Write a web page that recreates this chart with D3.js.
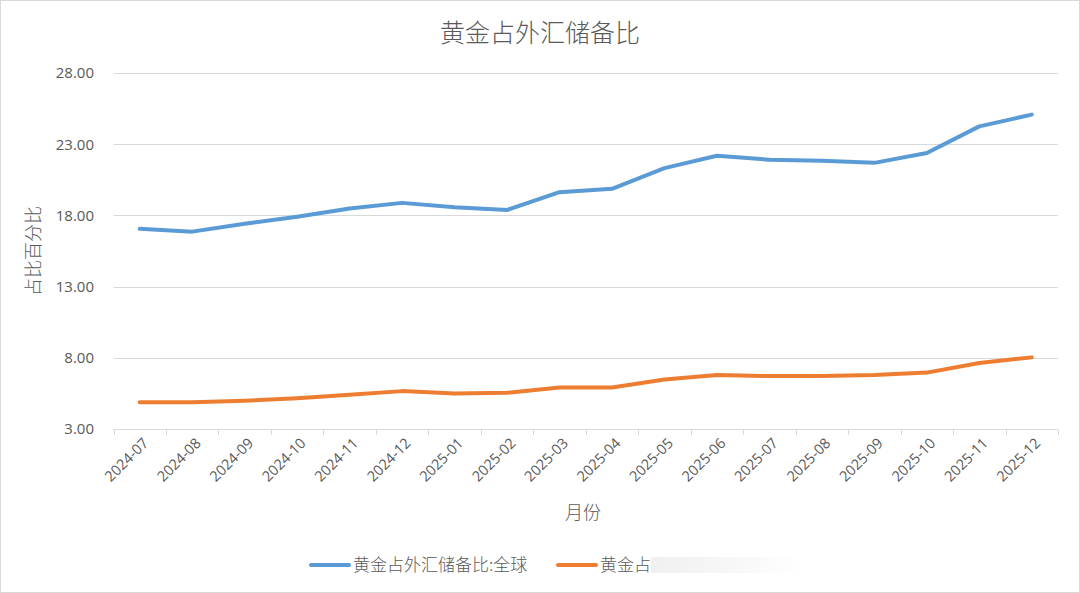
<!DOCTYPE html>
<html><head><meta charset="utf-8">
<script src="https://cdn.jsdelivr.net/npm/d3@7"></script>
<style>
html,body{margin:0;padding:0;background:#fff;}
svg{display:block;font-family:"Noto Sans","Noto Sans CJK SC",sans-serif;}
</style></head>
<body><svg id="c" width="1080" height="593"></svg>
<script>
const months = ["2024-07","2024-08","2024-09","2024-10","2024-11","2024-12","2025-01","2025-02","2025-03","2025-04","2025-05","2025-06","2025-07","2025-08","2025-09","2025-10","2025-11","2025-12"];
const globalShare = [17.06,16.86,17.41,17.91,18.48,18.88,18.57,18.38,19.63,19.87,21.32,22.19,21.91,21.84,21.69,22.38,24.25,25.08];
const otherShare = [4.87,4.87,4.99,5.16,5.40,5.66,5.49,5.54,5.92,5.92,6.48,6.79,6.72,6.72,6.79,6.96,7.64,8.03];
const yTicks = [3,8,13,18,23,28];
const seriesNames = ["黄金占外汇储备比:全球","黄金占"];
const colors = ["#5b9bd5","#ed7d31"];

const svg = d3.select("#c");
const W=1080,H=593;
svg.append("rect").attr("x",0.5).attr("y",0.5).attr("width",W-1).attr("height",H-1)
  .attr("fill","#fff").attr("stroke","#d9d9d9");

const x = d3.scaleBand().domain(months).range([113.5,1058]).padding(0);
const y = d3.scaleLinear().domain([3,28]).range([429,73]);

// gridlines
svg.append("g").selectAll("line").data(yTicks.slice(1)).join("line")
  .attr("x1",113.5).attr("x2",1058).attr("y1",d=>Math.round(y(d))+0.5).attr("y2",d=>Math.round(y(d))+0.5)
  .attr("stroke","#d9d9d9").attr("stroke-width",1);

// y axis labels
const yAxis = d3.axisLeft(y).tickValues(yTicks).tickFormat(d3.format(".2f")).tickSize(0).tickPadding(0);
const gy = svg.append("g").attr("transform","translate(94,0)").call(yAxis);
gy.select(".domain").remove();
gy.selectAll("text").attr("font-size",15).attr("fill","#595959").attr("font-family","'Open Sans','Noto Sans',sans-serif");

// x axis
const xAxis = d3.axisBottom(x).tickSize(0).tickPadding(0);
const gx = svg.append("g").attr("transform","translate(0,429.5)").call(xAxis);
gx.select(".domain").attr("stroke","#d9d9d9").attr("d","M113.5,0H1058");
const bounds = months.map(m=>x(m)).concat([x(months[months.length-1])+x.bandwidth()]);
svg.append("g").selectAll("line").data(bounds).join("line")
  .attr("x1",d=>Math.round(d)+0.5).attr("x2",d=>Math.round(d)+0.5).attr("y1",429.5).attr("y2",435)
  .attr("stroke","#d9d9d9");
gx.selectAll(".tick text")
  .attr("font-size",14.5).attr("fill","#595959").attr("font-family","'Open Sans','Noto Sans',sans-serif")
  .attr("text-anchor","end").attr("dy","0.35em")
  .attr("transform","translate(6,11) rotate(-45)");

// lines
const line = d3.line().x((d,i)=>x(months[i])+x.bandwidth()/2).y(d=>y(d));
[globalShare,otherShare].forEach((s,i)=>{
  svg.append("path").datum(s).attr("d",line).attr("fill","none")
    .attr("stroke",colors[i]).attr("stroke-width",4)
    .attr("stroke-linecap","round").attr("stroke-linejoin","round");
});

// title
svg.append("text").attr("x",540).attr("y",42).attr("text-anchor","middle")
  .attr("font-size",25).attr("font-weight",300).attr("fill","#595959").attr("font-family","'Noto Sans CJK SC',sans-serif")
  .text("黄金占外汇储备比");
// y title
svg.append("text").attr("transform","translate(40,251) rotate(-90)").attr("text-anchor","middle")
  .attr("font-size",18).attr("font-weight",300).attr("fill","#595959").attr("font-family","'Noto Sans CJK SC',sans-serif")
  .text("占比百分比");
// x title
svg.append("text").attr("x",583).attr("y",519).attr("text-anchor","middle")
  .attr("font-size",18).attr("font-weight",300).attr("fill","#595959").attr("font-family","'Noto Sans CJK SC',sans-serif")
  .text("月份");

// legend
const defs = svg.append("defs");
const grad = defs.append("linearGradient").attr("id","fade");
grad.append("stop").attr("offset","0%").attr("stop-color","#f0f0f0");
grad.append("stop").attr("offset","60%").attr("stop-color","#f8f8f8");
grad.append("stop").attr("offset","100%").attr("stop-color","#ffffff");
const legX = [311,558];
const lg = svg.append("g");
seriesNames.forEach((n,i)=>{
  lg.append("line").attr("x1",legX[i]).attr("x2",legX[i]+38).attr("y1",565).attr("y2",565)
    .attr("stroke",colors[i]).attr("stroke-width",4).attr("stroke-linecap","round");
  lg.append("text").attr("x",legX[i]+42).attr("y",571).attr("font-size",17).attr("font-weight",300).attr("fill","#595959")
    .attr("font-family","'Noto Sans CJK SC',sans-serif").text(n);
});
lg.append("rect").attr("x",651).attr("y",557).attr("width",150).attr("height",16).attr("fill","url(#fade)");
</script></body></html>
